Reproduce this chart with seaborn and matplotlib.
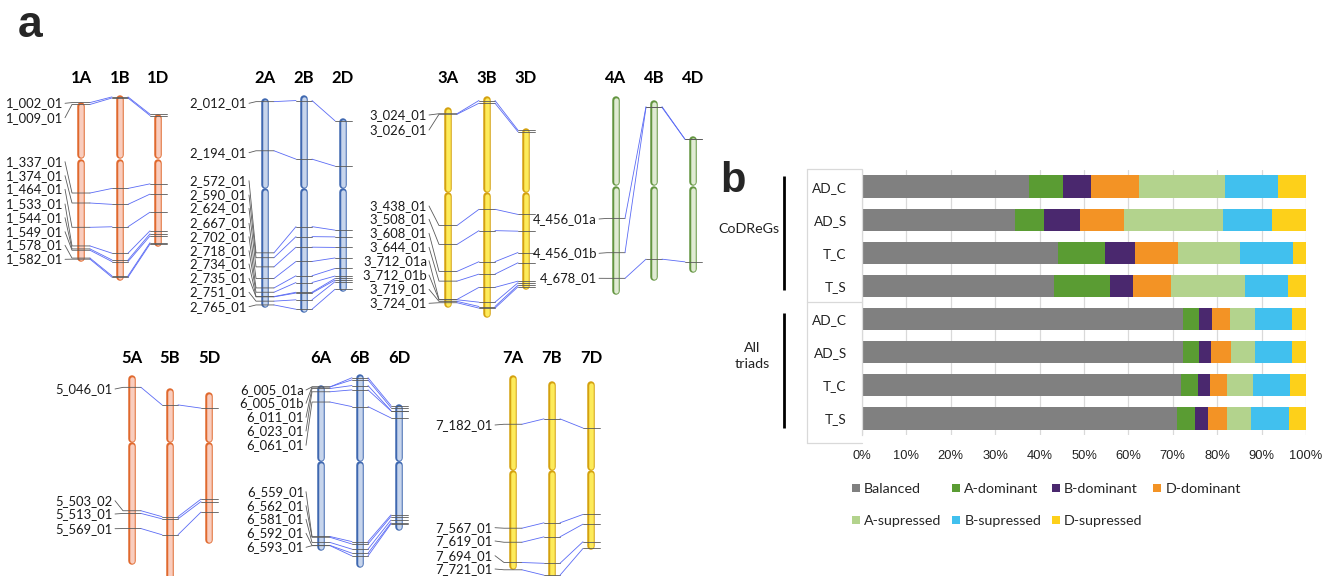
import matplotlib
matplotlib.use("Agg")
import matplotlib.pyplot as plt
from matplotlib.patches import Patch
import seaborn as sns
import pandas as pd

# ---------------- DATA : panel b (percent of triads) ----------------
ROW_LABELS = ["AD_C", "AD_S", "T_C", "T_S", "AD_C", "AD_S", "T_C", "T_S"]
ROW_GROUPS = ["CoDReGs"] * 4 + ["All triads"] * 4
CATEGORIES = ["Balanced", "A-dominant", "B-dominant", "D-dominant",
              "A-supressed", "B-supressed", "D-supressed"]
BALANCED = [37.6, 34.5, 44.1, 43.2, 72.4, 72.3, 71.8, 70.9]
A_DOMINANT = [7.6, 6.6, 10.7, 12.7, 3.6, 3.6, 3.8, 4.0]
B_DOMINANT = [6.4, 7.9, 6.6, 5.2, 2.8, 2.8, 2.8, 3.0]
D_DOMINANT = [10.8, 9.9, 9.7, 8.4, 4.0, 4.3, 3.8, 4.3]
A_SUPRESSED = [19.4, 22.3, 14.0, 16.8, 5.7, 5.6, 5.9, 5.4]
B_SUPRESSED = [11.8, 11.1, 11.9, 9.6, 8.3, 8.2, 8.3, 8.5]
D_SUPRESSED = [6.4, 7.7, 3.0, 4.1, 3.2, 3.2, 3.6, 3.9]
X_TICKS = [0, 10, 20, 30, 40, 50, 60, 70, 80, 90, 100]

# ---------------- DATA : panel a (positions in Mb) ----------------
HOMEOLOG_GROUPS = ["1", "2", "3", "4", "5", "6", "7"]
LEN_A = [593, 774, 741, 737, 704, 611, 722]
LEN_B = [689, 806, 823, 667, 713, 718, 750]
LEN_D = [493, 642, 601, 505, 562, 469, 627]
CEN_A = [211, 333, 315, 333, 251, 282, 354]
CEN_B = [237, 346, 357, 316, 202, 324, 333]
CEN_D = [167, 259, 239, 185, 187, 214, 333]

G1_GENES = ["1_002_01", "1_009_01", "1_337_01", "1_374_01", "1_464_01",
            "1_533_01", "1_544_01", "1_549_01", "1_578_01", "1_582_01"]
G1_A = [2, 9, 337, 374, 464, 533, 544, 549, 578, 582]
G1_B = [7, 11, 346, 405, 488, 586, 611, 617, 670, 675]
G1_D = [1, 6, 259, 297, 364, 433, 444, 452, 477, 482]

G2_GENES = ["2_012_01", "2_194_01", "2_572_01", "2_590_01", "2_624_01", "2_667_01",
            "2_702_01", "2_718_01", "2_734_01", "2_735_01", "2_751_01", "2_765_01"]
G2_A = [12, 194, 572, 590, 624, 667, 702, 718, 734, 735, 751, 765]
G2_B = [21, 238, 488, 525, 564, 617, 670, 695, 731, 734, 759, 794]
G2_D = [9, 177, 414, 439, 478, 517, 556, 584, 593, 599, 605, 633]

G3_GENES = ["3_024_01", "3_026_01", "3_438_01", "3_508_01", "3_608_01",
            "3_644_01", "3_712_01a", "3_712_01b", "3_719_01", "3_724_01"]
G3_A = [24, 26, 438, 508, 608, 644, 712, 713, 719, 724]
G3_B = [17, 27, 420, 499, 614, 660, 709, 764, 780, 786]
G3_D = [9, 15, 321, 383, 462, 500, 568, 574, 583, 589]

G4_GENES = ["4_456_01a", "4_456_01b", "4_678_01"]
G4_A = [453, 580, 675]
G4_B = [22, 25, 587]
G4_D = [12, 12, 466]

G5_GENES = ["5_046_01", "5_503_02", "5_513_01", "5_569_01"]
G5_A = [46, 503, 513, 569]
G5_B = [62, 476, 484, 543]
G5_D = [59, 396, 405, 444]

G6_GENES = ["6_005_01a", "6_005_01b", "6_011_01", "6_023_01", "6_061_01",
            "6_559_01", "6_562_01", "6_581_01", "6_592_01", "6_593_01"]
G6_A = [5, 5, 11, 23, 61, 559, 562, 581, 592, 593]
G6_B = [13, 21, 42, 58, 120, 620, 629, 648, 663, 673]
G6_D = [6, 14, 25, 26, 52, 411, 417, 430, 440, 444]

G7_GENES = ["7_182_01", "7_567_01", "7_619_01", "7_694_01", "7_721_01"]
G7_A = [182, 567, 619, 694, 721]
G7_B = [141, 526, 578, 676, 720]
G7_D = [175, 495, 531, 596, 621]

# ---------------- LAYOUT / STYLE ----------------
SCALE = 0.27  # px per Mb
GROUP_X = [(81, 120, 158), (265, 304, 343), (448, 487, 526), (616, 654, 693),
           (132, 170, 209), (321, 360, 399), (513, 552, 591)]
GROUP_CEN_Y = [159, 188.3, 192.3, 186, 442.7, 461.7, 470.7]
HEADER_Y = [78, 78, 78, 78, 358, 358, 358]
LABEL_X = [63, 247, 427, 597, 113, 304, 493]
LABEL_Y = [
    [103.3, 117.7, 161.7, 175.7, 189.3, 204, 217.7, 231.7, 245.3, 259.3],
    [103.3, 152.7, 180.7, 195, 208.3, 223.3, 236.7, 250.7, 264, 278.3, 292.3, 306.7],
    [115, 130, 206, 219.3, 233.3, 247.3, 260.7, 275, 289.3, 303.3],
    [219, 253.3, 278.3],
    [389, 500.7, 514, 528.7],
    [390, 403.3, 417.3, 431, 445.3, 491.7, 505.7, 519.3, 533.3, 547.3],
    [425, 527.7, 541, 555.7, 569],
]
CHROM_STYLE = {
    "orange": ("#E0692E", "#F9CDBE"),
    "blue": ("#3F68B0", "#C7D5EC"),
    "yellow": ("#D4A10F", "#FDEB5A"),
    "green": ("#639540", "#E0EBD3"),
}
GROUP_STYLE = ["orange", "blue", "yellow", "green", "orange", "blue", "yellow"]
BAR_COLORS = ["#808080", "#5A9C33", "#4A286E", "#F39325",
              "#B3D38D", "#41C0EE", "#FDD01A"]
GRAY_LINE = "#5A5A5A"
BLUE_LINE = "#5B6BF5"

GENES = [G1_GENES, G2_GENES, G3_GENES, G4_GENES, G5_GENES, G6_GENES, G7_GENES]
POS_A = [G1_A, G2_A, G3_A, G4_A, G5_A, G6_A, G7_A]
POS_B = [G1_B, G2_B, G3_B, G4_B, G5_B, G6_B, G7_B]
POS_D = [G1_D, G2_D, G3_D, G4_D, G5_D, G6_D, G7_D]

sns.set_theme(style="white")
plt.rcParams["font.family"] = ["Lato", "DejaVu Sans"]

W, H = 1338, 576
fig = plt.figure(figsize=(W / 100, H / 100), dpi=100)

# ---------------- panel b : stacked bars ----------------
axb = fig.add_axes([862 / W, 1 - 435 / H, 444 / W, 265 / H])
row_ids = [f"{g}|{r}" for g, r in zip(ROW_GROUPS, ROW_LABELS)]
df = pd.DataFrame({
    "row": row_ids,
    "Balanced": BALANCED, "A-dominant": A_DOMINANT, "B-dominant": B_DOMINANT,
    "D-dominant": D_DOMINANT, "A-supressed": A_SUPRESSED,
    "B-supressed": B_SUPRESSED, "D-supressed": D_SUPRESSED,
})
cum = df[CATEGORIES].cumsum(axis=1)
cum["row"] = df["row"]
for cat, col in reversed(list(zip(CATEGORIES, BAR_COLORS))):
    sns.barplot(data=cum, x=cat, y="row", order=row_ids, orient="h",
                color=col, saturation=1, width=0.67, errorbar=None,
                edgecolor="none", linewidth=0, ax=axb)
axb.set_xlim(0, 100)
axb.set_ylim(7.5, -0.5)
axb.set_xticks(X_TICKS)
axb.set_xticklabels([f"{t}%" for t in X_TICKS], family="Liberation Sans",
                    fontsize=9.3, color="#222222")
axb.set_yticks(range(len(ROW_LABELS)))
axb.set_yticklabels(ROW_LABELS, fontsize=9.8, color="#222222")
axb.tick_params(axis="both", length=0)
axb.tick_params(axis="x", pad=11)
axb.tick_params(axis="y", pad=11)
axb.set_xlabel("")
axb.set_ylabel("")
axb.set_axisbelow(True)
axb.xaxis.grid(True, color="#D9D9D9", lw=0.9)
for s in ["top", "right", "bottom"]:
    axb.spines[s].set_visible(False)
axb.spines["left"].set_color("#D9D9D9")
axb.spines["left"].set_linewidth(0.9)

handles = [Patch(facecolor=c, edgecolor="none", label=n) for n, c in zip(CATEGORIES, BAR_COLORS)]
order = [0, 4, 1, 5, 2, 6, 3]
fig.legend([handles[i] for i in order], [CATEGORIES[i] for i in order],
           loc="upper left", bbox_to_anchor=(852 / W, 1 - 483 / H), ncol=4,
           frameon=False, fontsize=10.3, handlelength=0.55, handleheight=0.55,
           handletextpad=0.3, columnspacing=0.75, labelspacing=1.4,
           borderpad=0, borderaxespad=0)

# ---------------- overlay in pixel units ----------------
ax = fig.add_axes([0, 0, 1, 1])
ax.set_xlim(0, W)
ax.set_ylim(H, 0)
ax.axis("off")

# category frame of panel b
frame_c = "#D9D9D9"
ax.plot([807, 807], [169, 443], color=frame_c, lw=0.9)
for yy in (169, 301.7, 443):
    ax.plot([807, 862], [yy, yy], color=frame_c, lw=0.9)
ax.plot([784, 784], [176, 290], color="black", lw=2.0, solid_capstyle="butt")
ax.plot([784, 784], [313, 428], color="black", lw=2.0, solid_capstyle="butt")
ax.text(749, 229, "CoDReGs", ha="center", va="center", fontsize=10.3, color="#222222")
ax.text(752, 356, "All\ntriads", ha="center", va="center", fontsize=10.3,
        color="#222222", linespacing=1.35)

ax.text(18, 37, "a", fontsize=32, fontweight="bold", family="Liberation Sans",
        ha="left", va="baseline")
ax.text(720, 192, "b", fontsize=30, fontweight="bold", family="Liberation Sans",
        ha="left", va="baseline")

PT = 0.72  # points per pixel at 100 dpi


def draw_chrom(x, cen_y, length, cen, style):
    edge, fill = CHROM_STYLE[style]
    top = cen_y - cen * SCALE
    bot = top + length * SCALE
    w_out, w_in = 7.5, 4.5
    r = w_out / 2
    for y0, y1 in ((top + r, cen_y - r), (cen_y + r, bot - r)):
        ax.plot([x, x], [y0, y1], color=edge, lw=w_out * PT,
                solid_capstyle="round", zorder=2)
        ax.plot([x, x], [y0, y1], color=fill, lw=w_in * PT,
                solid_capstyle="round", zorder=2.1)
    return top


for gi, grp in enumerate(HOMEOLOG_GROUPS):
    xa, xb, xd = GROUP_X[gi]
    cy = GROUP_CEN_Y[gi]
    st = GROUP_STYLE[gi]
    ta = draw_chrom(xa, cy, LEN_A[gi], CEN_A[gi], st)
    tb = draw_chrom(xb, cy, LEN_B[gi], CEN_B[gi], st)
    td = draw_chrom(xd, cy, LEN_D[gi], CEN_D[gi], st)
    for x, sub in ((xa, "A"), (xb, "B"), (xd, "D")):
        ax.text(x, HEADER_Y[gi], grp + sub, ha="center", va="center",
                fontsize=12, fontweight="bold", color="black")
    for k, gene in enumerate(GENES[gi]):
        ya = ta + POS_A[gi][k] * SCALE
        yb = tb + POS_B[gi][k] * SCALE
        yd = td + POS_D[gi][k] * SCALE
        ly = LABEL_Y[gi][k]
        lx = LABEL_X[gi]
        ax.text(lx, ly, gene, ha="right", va="center", fontsize=9.4,
                color="#1a1a1a")
        ax.plot([lx + 2, xa - 9, xa + 9], [ly, ya, ya], color=GRAY_LINE,
                lw=0.6, zorder=3)
        ax.plot([xa + 9, xb - 8], [ya, yb], color=BLUE_LINE, lw=0.6, zorder=3)
        ax.plot([xb - 8, xb + 8], [yb, yb], color=GRAY_LINE, lw=0.6, zorder=3)
        ax.plot([xb + 8, xd - 8], [yb, yd], color=BLUE_LINE, lw=0.6, zorder=3)
        ax.plot([xd - 8, xd + 9], [yd, yd], color=GRAY_LINE, lw=0.6, zorder=3)

fig.savefig("out.png", dpi=100)
